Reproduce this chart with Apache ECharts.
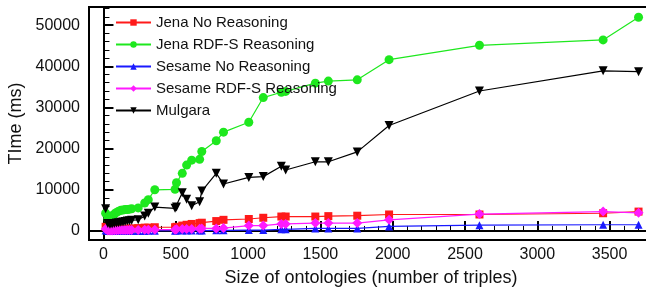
<!DOCTYPE html>
<html><head><meta charset="utf-8">
<script src="https://cdn.jsdelivr.net/npm/echarts@6/dist/echarts.min.js"></script>
<style>html,body{margin:0;padding:0;background:#fff}#c{width:646px;height:293px}</style>
</head><body><div id="c"></div>
<script>
const sizes = [15, 30, 45, 60, 75, 90, 105, 120, 135, 150, 165, 180, 195, 240, 285, 310, 355, 495, 505, 545, 575, 610, 665, 680, 780, 830, 1005, 1105, 1230, 1260, 1465, 1555, 1755, 1975, 2600, 3455, 3700];
const jenaNo = [1000, 400, 400, 400, 400, 400, 500, 500, 500, 500, 500, 600, 600, 700, 800, 800, 900, 900, 1000, 1300, 1500, 1700, 1900, 2000, 2400, 2700, 2900, 3200, 3500, 3500, 3500, 3600, 3700, 4000, 4000, 4300, 4700];
const jenaRdfs = [4300, 3000, 3300, 3700, 4100, 4500, 4800, 5000, 5100, 5200, 5200, 5300, 5400, 5600, 6800, 7600, 10000, 10100, 11700, 14000, 16000, 17200, 17400, 19300, 21900, 24000, 26400, 32400, 33700, 33900, 35900, 36400, 36700, 41600, 45100, 46400, 51900];
const sesameNo = [100, 0, 0, 0, 0, 0, 0, 0, 0, 0, 0, 0, 0, 0, 0, 50, 50, 50, 100, 100, 100, 100, 100, 100, 150, 150, 200, 200, 400, 400, 600, 600, 600, 1100, 1400, 1500, 1500];
const sesameRdfs = [500, 100, 100, 100, 150, 150, 200, 200, 200, 200, 200, 200, 200, 250, 300, 300, 300, 300, 400, 450, 500, 500, 550, 600, 600, 700, 1300, 1300, 1700, 1700, 1900, 1900, 1900, 2700, 4100, 4700, 4400];
const mulgara = [5400, 1800, 1600, 1700, 1800, 1900, 2000, 2100, 2200, 2300, 2400, 2500, 2600, 2700, 3600, 4300, 5800, 5500, 5800, 9300, 7700, 6100, 7100, 9700, 14000, 11400, 13000, 13200, 15700, 14800, 16800, 16800, 19200, 25600, 34000, 38900, 38700];

const xTicks = [0, 500, 1000, 1500, 2000, 2500, 3000, 3500];
const xMinorTicks = [-100,0,100,200,300,400,500,600,700,800,900,1000,1100,1200,1300,1400,1500,1600,1700,1800,1900,2000,2100,2200,2300,2400,2500,2600,2700,2800,2900,3000,3100,3200,3300,3400,3500,3600,3700];
const yTicks = [0, 10000, 20000, 30000, 40000, 50000];
const yMinorTicks = [-2000,0,2000,4000,6000,8000,10000,12000,14000,16000,18000,20000,22000,24000,26000,28000,30000,32000,34000,36000,38000,40000,42000,44000,46000,48000,50000,52000,54000];

const names = ['Jena No Reasoning', 'Jena RDF-S Reasoning', 'Sesame No Reasoning', 'Sesame RDF-S Reasoning', 'Mulgara'];
const values = [jenaNo, jenaRdfs, sesameNo, sesameRdfs, mulgara];
const colors = ['#ff1a1a', '#1ee81e', '#1a1aff', '#ff1aff', '#000000'];
const symbols = ['rect', 'circle', 'triangle', 'diamond', 'path://M0,0 L10,0 L5,9 Z'];
const symSizes = [8, 9, 8, 10, 9];

const font = 'Liberation Sans, Arial, Helvetica, sans-serif';
const chart = echarts.init(document.getElementById('c'), null, {renderer: 'canvas'});

const xMin = -100, xMax = 3800, yMin = -2200, yMax = 54400;
const plain = v => String(v);
const baseAxisX = {type: 'value', min: xMin, max: xMax, splitLine: {show: false}};
const baseAxisY = {type: 'value', min: yMin, max: yMax, splitLine: {show: false}};

chart.setOption({
  animation: false,
  backgroundColor: '#fff',
  grid: {left: 89, right: -7, top: 7, bottom: 53, containLabel: false, outerBoundsMode: 'none',
         show: true, borderColor: '#000', borderWidth: 2, backgroundColor: 'transparent'},
  legend: {
    orient: 'vertical', left: 110, top: 10, itemWidth: 35, itemHeight: 8, itemGap: 7,
    textStyle: {fontFamily: font, fontSize: 15, color: '#111'},
    data: names
  },
  xAxis: [
    Object.assign({}, baseAxisX, {
      position: 'bottom',
      name: 'Size of ontologies (number of triples)', nameLocation: 'middle', nameGap: 29,
      nameTextStyle: {fontFamily: font, fontSize: 18, color: '#111'},
      axisLine: {show: true, lineStyle: {color: '#000', width: 2}},
      axisTick: {show: true, inside: true, length: 10, lineStyle: {color: '#000', width: 2}, customValues: xTicks},
      axisLabel: {show: true, customValues: xTicks, formatter: plain, fontFamily: font, fontSize: 16, color: '#111', margin: 7}
    }),
    Object.assign({}, baseAxisX, {
      position: 'bottom',
      axisLine: {show: false},
      axisTick: {show: true, inside: true, length: 5, lineStyle: {color: '#000', width: 1}, customValues: xMinorTicks},
      axisLabel: {show: false}
    })
  ],
  yAxis: [
    Object.assign({}, baseAxisY, {
      position: 'left',
      name: 'TIme (ms)', nameLocation: 'middle', nameGap: 58, nameRotate: 90,
      nameTextStyle: {fontFamily: font, fontSize: 18, color: '#111'},
      axisLine: {show: true, lineStyle: {color: '#000', width: 2}},
      axisTick: {show: true, inside: true, length: 10, lineStyle: {color: '#000', width: 2}, customValues: yTicks},
      axisLabel: {show: true, customValues: yTicks, formatter: plain, fontFamily: font, fontSize: 16, color: '#111', margin: 9}
    }),
    Object.assign({}, baseAxisY, {
      position: 'left',
      axisLine: {show: false},
      axisTick: {show: true, inside: true, length: 6, lineStyle: {color: '#000', width: 1}, customValues: yMinorTicks},
      axisLabel: {show: false}
    })
  ],
  series: names.map((n, i) => ({
    name: n, type: 'line', xAxisIndex: 0, yAxisIndex: 0,
    data: sizes.map((s, j) => [s, values[i][j]]),
    symbol: symbols[i], symbolSize: symSizes[i], showAllSymbol: true,
    itemStyle: {color: colors[i]},
    lineStyle: {color: colors[i], width: 1.2},
    emphasis: {disabled: true}
  }))
});
</script></body></html>
